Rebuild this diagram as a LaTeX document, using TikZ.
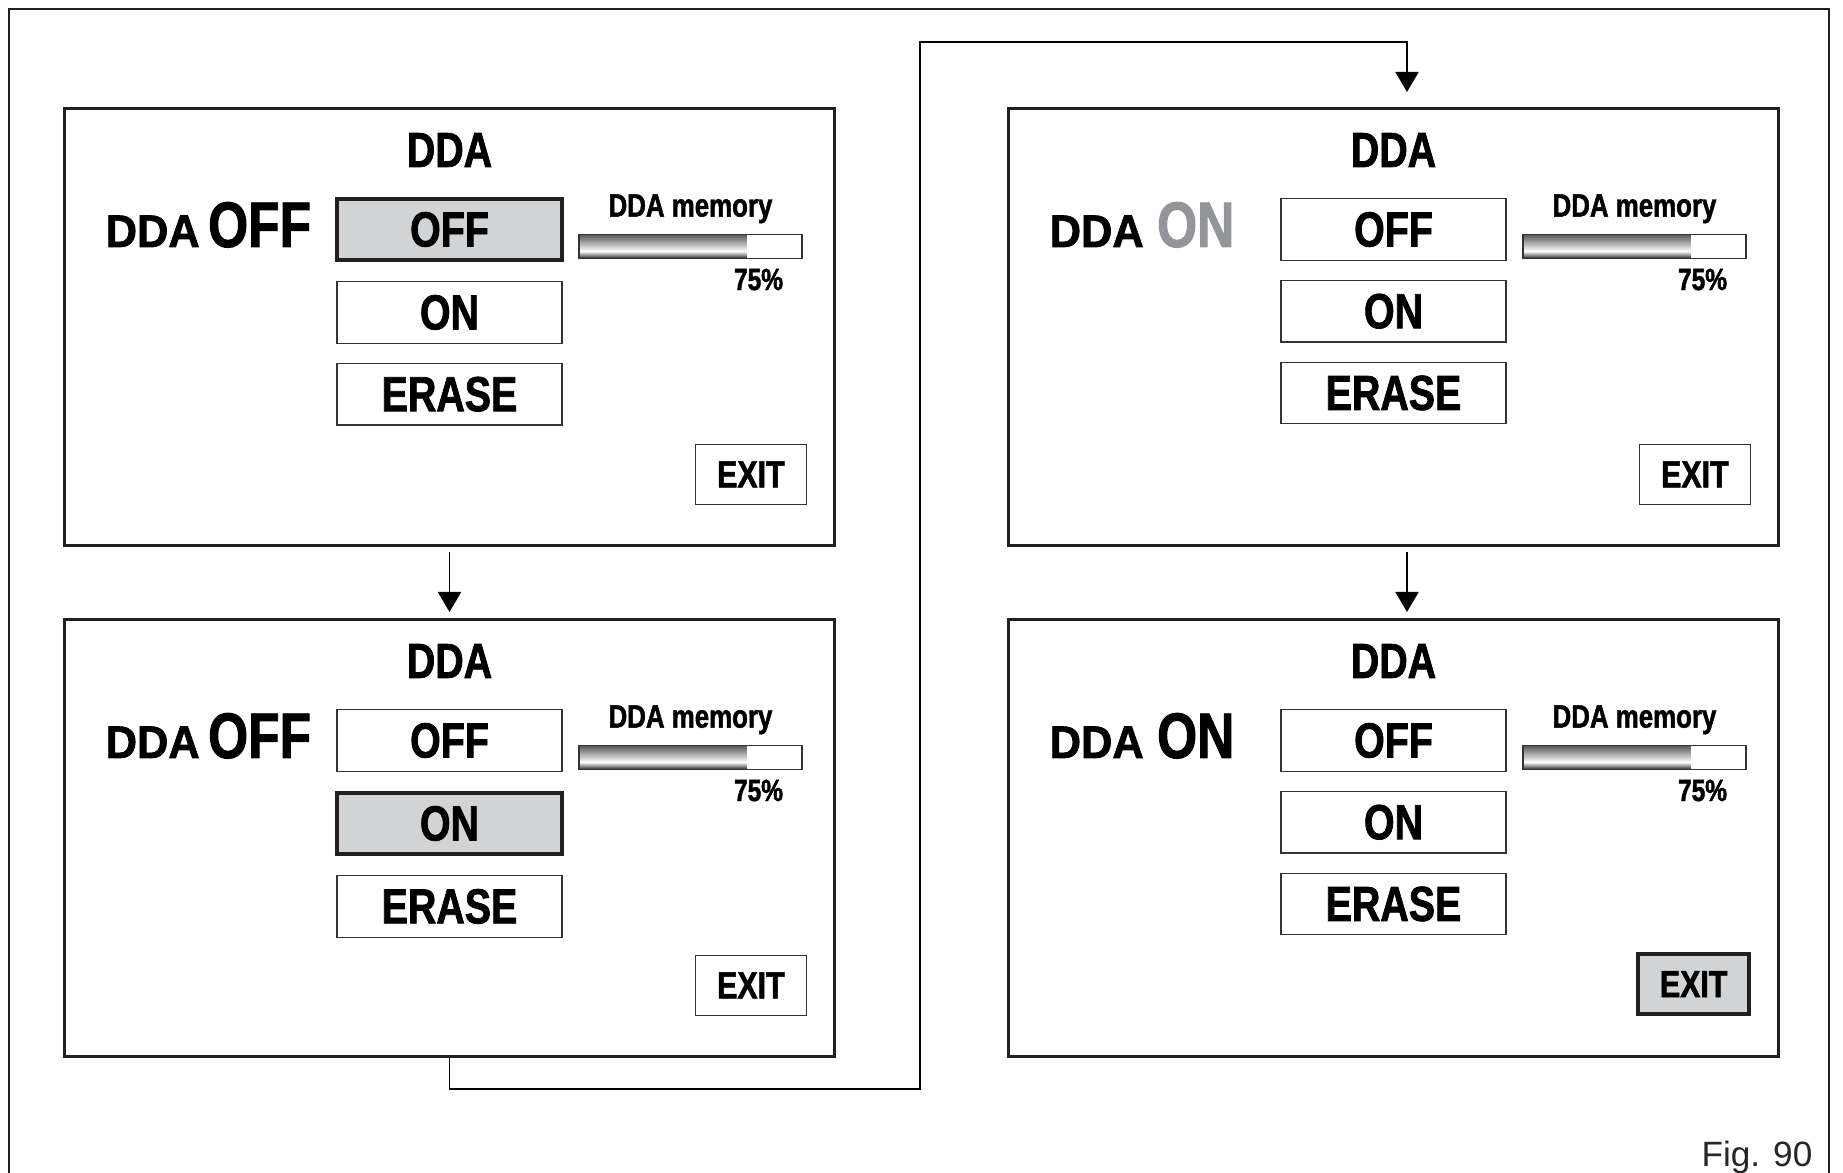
\documentclass[tikz,border=0pt]{standalone}
\usepackage{fontspec}
\usepackage{xcolor}
\usepackage{tikz}
\usetikzlibrary{arrows.meta,positioning,calc}
\newfontfamily\dispfont{Liberation Sans}[FakeStretch=0.8,FakeBold=1.5]
\newfontfamily\keyfont{Liberation Sans}[FakeStretch=0.95,FakeBold=1.5]
\newfontfamily\figfont{Liberation Sans}
\definecolor{btngray}{RGB}{210,211,213}
\definecolor{ongray}{RGB}{147,149,152}
\definecolor{inkdark}{RGB}{35,31,32}
\pgfdeclareverticalshading{memshade}{100bp}{color(0bp)=(black!85); color(25bp)=(black!85); color(40bp)=(white); color(48bp)=(black!15); color(75bp)=(black!65); color(100bp)=(black!65)}
\tikzset{
  ddapanel/.style={
    rectangle, draw=inkdark, line width=0.85pt,
    minimum width=7.70cm, minimum height=4.37cm, inner sep=0pt
  },
  ddatitle/.style={inner sep=0pt, font=\dispfont\bfseries\fontsize{14}{16}\selectfont},
  ddakey/.style={inner sep=0pt, font=\keyfont\bfseries\fontsize{13}{15}\selectfont},
  ddaval/.style={inner sep=0pt, font=\dispfont\bfseries\fontsize{18.3}{20}\selectfont},
  ddabutton/.style={
    rectangle, draw=black!80, line width=0.35pt, fill=white,
    minimum width=2.25cm, minimum height=0.615cm, inner sep=0pt,
    font=\dispfont\bfseries\fontsize{14}{16}\selectfont
  },
  ddaselected/.style={ddabutton, draw=inkdark, line width=1.05pt, fill=btngray},
  ddamem/.style={inner sep=0pt, font=\dispfont\bfseries\fontsize{9.2}{11}\selectfont},
  ddabar/.style={
    rectangle, draw=black!80, line width=0.4pt,
    minimum width=2.23cm, minimum height=0.236cm, inner sep=0pt,
    path picture={
      \shade[shading=memshade]
        (path picture bounding box.north west) rectangle
        ($(path picture bounding box.south west)!0.75!(path picture bounding box.south east)$);
    }
  },
  ddapct/.style={inner sep=0pt, font=\dispfont\bfseries\fontsize{8.7}{10}\selectfont},
  ddaexit/.style={ddabutton, minimum width=1.11cm, minimum height=0.60cm,
    font=\dispfont\bfseries\fontsize{10.8}{12}\selectfont},
  ddaexitsel/.style={ddaexit, draw=inkdark, line width=1.05pt, fill=btngray},
  flowarrow/.style={-{Triangle[width=2.3mm,length=2mm]}, line width=0.55pt, draw=black},
  frameline/.style={line width=0.6pt, draw=inkdark},
  figlabel/.style={inner sep=0pt, font=\figfont\fontsize{10}{12}\selectfont, text=black!85}
}

\begin{document}
\begin{tikzpicture}
  \useasboundingbox (0,0) rectangle (18.43,-11.73);
  \draw[frameline] (0.094,-11.73) -- (0.094,-0.094) -- (18.29,-0.094) -- (18.29,-11.73);

  % the four screens
  \node[ddapanel] (tl) at (4.495,-3.27) {};
  \node[ddapanel, below=0.71cm of tl] (bl) {};
  \node[ddapanel, right=1.71cm of tl] (tr) {};
  \node[ddapanel, below=0.71cm of tr] (br) {};

  % screen 1: DDA off, OFF selected
  \node[ddatitle] (tl-title) at ([yshift=-0.43cm]tl.north) {DDA};
  \node[ddakey, anchor=base west] (tl-key) at ([xshift=0.42cm,yshift=-1.40cm]tl.north west) {DDA};
  \node[ddaval, right=0.07cm of tl-key.base east, anchor=base west] (tl-val) {OFF};
  \node[ddaselected] (tl-off) at ([yshift=-1.225cm]tl.north) {OFF};
  \node[ddabutton, below=0.19cm of tl-off] (tl-on) {ON};
  \node[ddabutton, below=0.19cm of tl-on] (tl-erase) {ERASE};
  \node[ddabar] (tl-bar) at ([xshift=2.41cm,yshift=-1.395cm]tl.north) {};
  \node[ddamem, above=0.1cm of tl-bar] (tl-mem) {DDA memory};
  \node[ddapct, anchor=base east] (tl-pct) at ([xshift=-0.19cm,yshift=-0.31cm]tl-bar.south east) {75\%};
  \node[ddaexit, anchor=south east] (tl-exit) at ([xshift=-0.29cm,yshift=0.42cm]tl.south east) {EXIT};

  % screen 2: ON selected
  \node[ddatitle] (bl-title) at ([yshift=-0.43cm]bl.north) {DDA};
  \node[ddakey, anchor=base west] (bl-key) at ([xshift=0.42cm,yshift=-1.40cm]bl.north west) {DDA};
  \node[ddaval, right=0.07cm of bl-key.base east, anchor=base west] (bl-val) {OFF};
  \node[ddabutton] (bl-off) at ([yshift=-1.225cm]bl.north) {OFF};
  \node[ddaselected, below=0.19cm of bl-off] (bl-on) {ON};
  \node[ddabutton, below=0.19cm of bl-on] (bl-erase) {ERASE};
  \node[ddabar] (bl-bar) at ([xshift=2.41cm,yshift=-1.395cm]bl.north) {};
  \node[ddamem, above=0.1cm of bl-bar] (bl-mem) {DDA memory};
  \node[ddapct, anchor=base east] (bl-pct) at ([xshift=-0.19cm,yshift=-0.31cm]bl-bar.south east) {75\%};
  \node[ddaexit, anchor=south east] (bl-exit) at ([xshift=-0.29cm,yshift=0.42cm]bl.south east) {EXIT};

  % screen 3: DDA switching on
  \node[ddatitle] (tr-title) at ([yshift=-0.43cm]tr.north) {DDA};
  \node[ddakey, anchor=base west] (tr-key) at ([xshift=0.42cm,yshift=-1.40cm]tr.north west) {DDA};
  \node[ddaval, text=ongray, right=0.12cm of tr-key.base east, anchor=base west] (tr-val) {ON};
  \node[ddabutton] (tr-off) at ([yshift=-1.225cm]tr.north) {OFF};
  \node[ddabutton, below=0.19cm of tr-off] (tr-on) {ON};
  \node[ddabutton, below=0.19cm of tr-on] (tr-erase) {ERASE};
  \node[ddabar] (tr-bar) at ([xshift=2.41cm,yshift=-1.395cm]tr.north) {};
  \node[ddamem, above=0.1cm of tr-bar] (tr-mem) {DDA memory};
  \node[ddapct, anchor=base east] (tr-pct) at ([xshift=-0.19cm,yshift=-0.31cm]tr-bar.south east) {75\%};
  \node[ddaexit, anchor=south east] (tr-exit) at ([xshift=-0.29cm,yshift=0.42cm]tr.south east) {EXIT};

  % screen 4: DDA on, EXIT selected
  \node[ddatitle] (br-title) at ([yshift=-0.43cm]br.north) {DDA};
  \node[ddakey, anchor=base west] (br-key) at ([xshift=0.42cm,yshift=-1.40cm]br.north west) {DDA};
  \node[ddaval, right=0.12cm of br-key.base east, anchor=base west] (br-val) {ON};
  \node[ddabutton] (br-off) at ([yshift=-1.225cm]br.north) {OFF};
  \node[ddabutton, below=0.19cm of br-off] (br-on) {ON};
  \node[ddabutton, below=0.19cm of br-on] (br-erase) {ERASE};
  \node[ddabar] (br-bar) at ([xshift=2.41cm,yshift=-1.395cm]br.north) {};
  \node[ddamem, above=0.1cm of br-bar] (br-mem) {DDA memory};
  \node[ddapct, anchor=base east] (br-pct) at ([xshift=-0.19cm,yshift=-0.31cm]br-bar.south east) {75\%};
  \node[ddaexitsel, anchor=south east] (br-exit) at ([xshift=-0.29cm,yshift=0.42cm]br.south east) {EXIT};

  % flow between screens
  \draw[flowarrow, shorten <=0.05cm, shorten >=0.06cm] (tl) -- (bl);
  \draw[flowarrow, shorten <=0.05cm, shorten >=0.06cm] ([xshift=0.135cm]tr.south) -- ([xshift=0.135cm]br.north);
  \coordinate (route) at (9.20,-0.417);
  \draw[flowarrow, shorten >=0.15cm] (bl.south) -- ++(0,-0.31) -| (route) -| ([xshift=0.135cm]tr.north);

  \node[figlabel, anchor=base east] (fig) at (18.13,-11.667) {Fig. 90};
\end{tikzpicture}
\end{document}
